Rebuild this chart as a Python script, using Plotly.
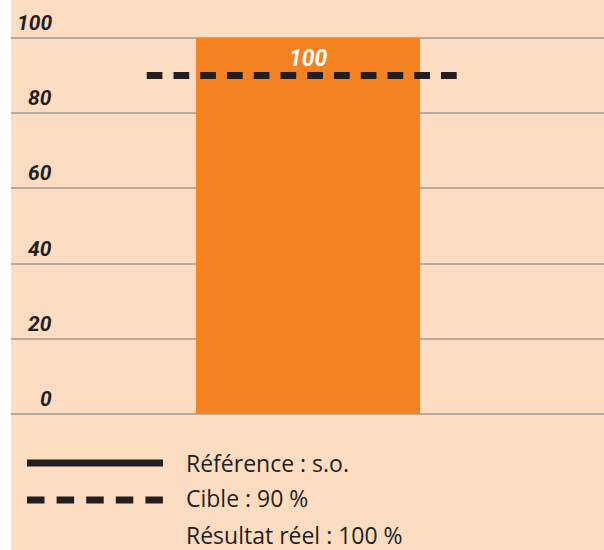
import plotly.graph_objects as go

# data
categories = [0]
result_values = [100]
target_value = 90
target_span = [-0.72, 0.665]
tick_values = [0, 20, 40, 60, 80, 100]
tick_labels = ["0", "20", "40", "60", "80", "100"]
legend_labels = ["Référence : s.o.", "Cible : 90 %", "Résultat réel : 100 %"]

PEACH = "#FCDDC1"
ORANGE = "#F58220"
DARK = "#231F20"
GRID = "#B3ACA5"
NARROW = "Roboto, Open Sans"

fig = go.Figure()

fig.add_trace(go.Bar(
    x=categories,
    y=result_values,
    width=1,
    marker={'color': ORANGE, 'line': {'width': 0}},
    hoverinfo='skip',
))

fig.add_trace(go.Scatter(
    x=target_span,
    y=[target_value, target_value],
    mode='lines',
    line={'color': DARK, 'width': 7, 'dash': '15.7px,11.05px'},
    hoverinfo='skip',
))

# value label on the bar
fig.add_annotation(
    x=categories[0], y=result_values[0], text=str(result_values[0]),
    showarrow=False, yanchor='top', yshift=-5,
    font={'family': NARROW, 'size': 23, 'color': 'white', 'weight': 'bold', 'style': 'italic'},
)

# y tick labels sitting above the gridlines
for v, lab in zip(tick_values, tick_labels):
    fig.add_annotation(
        xref='paper', x=0.072, y=v, text=lab, showarrow=False,
        xanchor='right', yanchor='bottom', yshift=1,
        font={'family': NARROW, 'size': 21, 'color': DARK, 'weight': 'bold', 'style': 'italic'},
    )

# peach band behind the legend area (the left strip stays white)
fig.add_shape(type='rect', xref='paper', yref='paper', x0=0, x1=1, y0=-0.4, y1=0,
              fillcolor=PEACH, line={'width': 0}, layer='below')

# legend drawn below the plot
fig.add_shape(type='line', xref='paper', yref='paper', x0=0.0270, x1=0.2563, y0=-0.1024, y1=-0.1024,
              line={'color': DARK, 'width': 7})
fig.add_shape(type='line', xref='paper', yref='paper', x0=0.0270, x1=0.2563, y0=-0.1905, y1=-0.1905,
              line={'color': DARK, 'width': 7, 'dash': '17.5px,12.1px'})
for i, lab in enumerate(legend_labels):
    fig.add_annotation(
        xref='paper', yref='paper', x=0.2917, y=[-0.1024, -0.1857, -0.2738][i],
        text=lab, showarrow=False, xanchor='left', yanchor='middle',
        font={'family': 'Open Sans', 'size': 23, 'color': DARK},
    )

fig.update_layout(
    width=604, height=550,
    margin={'l': 11, 'r': 0, 't': 0, 'b': 130},
    paper_bgcolor='white',
    plot_bgcolor=PEACH,
    showlegend=False,
    xaxis={'range': [-1.326, 1.321], 'showgrid': False, 'showticklabels': False,
           'zeroline': False, 'fixedrange': True},
    yaxis={'range': [-1.6, 110.1], 'tickvals': tick_values, 'showticklabels': False,
           'gridcolor': GRID, 'gridwidth': 1.5, 'zeroline': False, 'fixedrange': True},
)

fig.write_html("out.html", config={'displayModeBar': False},
               post_script="document.body.style.margin='0';")
